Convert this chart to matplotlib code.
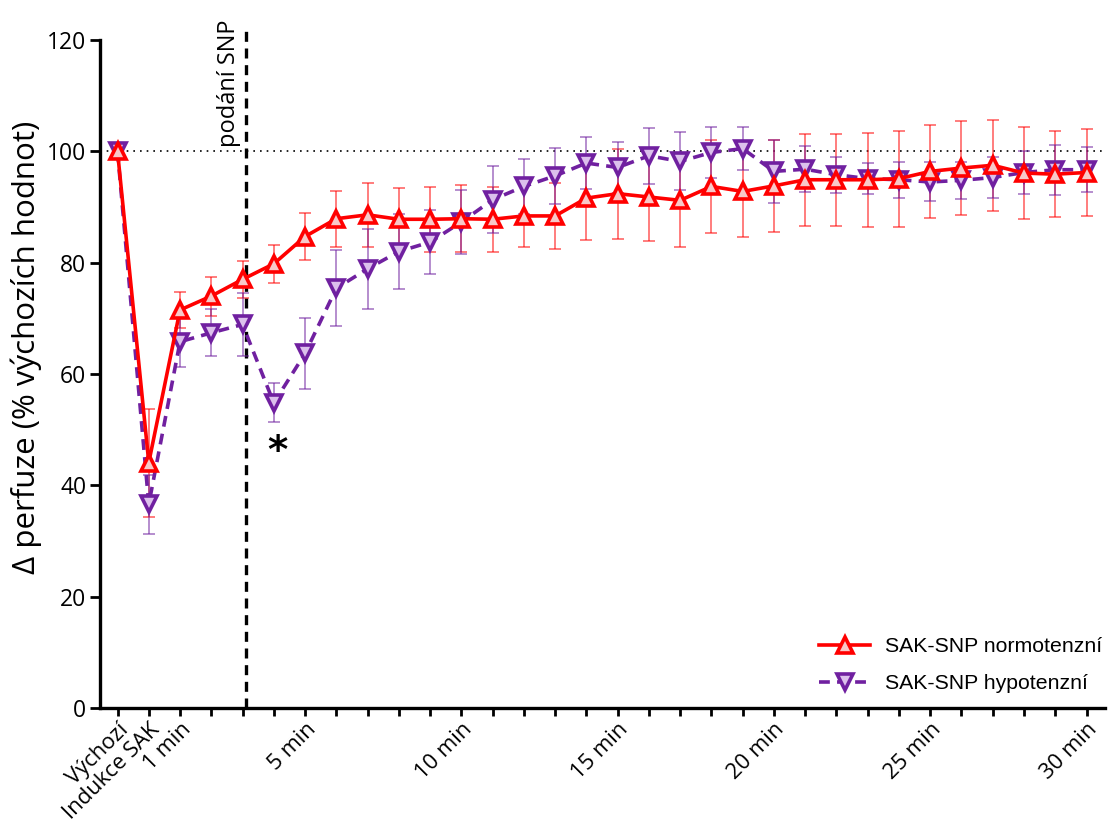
import matplotlib
matplotlib.use("Agg")
import matplotlib.pyplot as plt
import numpy as np

# časové body: Výchozí, Indukce SAK, 1 .. 30 min
x = np.arange(32)
tick_labels = {0: 'Výchozí', 1: 'Indukce SAK', 2: '1 min', 6: '5 min',
               11: '10 min', 16: '15 min', 21: '20 min', 26: '25 min', 31: '30 min'}

# SAK-SNP normotenzní (průměr, SEM)
norm_mean = [100, 44.1, 71.5, 74.0, 77.0, 79.8, 84.7, 87.9, 88.6, 87.8, 87.8, 87.9,
             87.8, 88.4, 88.4, 91.6, 92.4, 91.8, 91.2, 93.7, 92.8, 93.8,
             94.9, 94.9, 94.9, 95.1, 96.4, 97.0, 97.5, 96.1, 95.9, 96.2]
norm_sem = [0, 9.7, 3.3, 3.5, 3.3, 3.4, 4.2, 5.0, 5.7, 5.6, 5.8, 6.0,
            5.8, 5.5, 6.0, 7.6, 8.1, 7.9, 8.3, 8.4, 8.1, 8.3,
            8.3, 8.3, 8.4, 8.6, 8.3, 8.4, 8.2, 8.3, 7.7, 7.9]

# SAK-SNP hypotenzní (průměr, SEM)
hypo_mean = [100, 36.6, 65.8, 67.4, 68.9, 54.8, 63.7, 75.4, 78.9, 82.0, 83.7, 87.3,
             91.3, 93.7, 95.6, 97.9, 97.1, 99.2, 98.2, 99.8, 100.5, 96.4,
             96.8, 95.8, 95.1, 94.9, 94.5, 94.8, 95.3, 96.2, 96.7, 96.7]
hypo_sem = [0, 5.3, 4.6, 4.2, 5.6, 3.5, 6.4, 6.8, 7.2, 6.8, 5.7, 5.7,
            6.0, 4.9, 5.0, 4.6, 4.5, 5.0, 5.2, 4.5, 3.8, 5.6,
            4.1, 3.2, 2.8, 3.2, 3.5, 3.3, 3.7, 3.9, 4.5, 4.0]

snp_x = 4.1  # podání SNP

red = '#ff0000'
purple = '#7020a0'
font = 'Open Sans'

fig = plt.figure(figsize=(11.15, 8.22), dpi=100)
ax = fig.add_axes([0.0897, 0.1387, 0.9013, 0.8126])

# chybové úsečky (světlejší)
ax.errorbar(x, norm_mean, yerr=norm_sem, fmt='none', ecolor=red, alpha=0.55,
            elinewidth=1.3, capsize=4, capthick=1.3, zorder=2)
ax.errorbar(x, hypo_mean, yerr=hypo_sem, fmt='none', ecolor=purple, alpha=0.55,
            elinewidth=1.3, capsize=4, capthick=1.3, zorder=2)

ax.plot(x, norm_mean, color=red, lw=2.6, marker='^', ms=11, mew=2.6,
        mfc='#f8c8c8', mec=red, label='SAK-SNP normotenzní', zorder=4)
ax.plot(x, hypo_mean, color=purple, lw=2.6, ls=(0, (3, 2)), marker='v', ms=11, mew=2.6,
        mfc='#dcc0ec', mec=purple, label='SAK-SNP hypotenzní', zorder=3)

# referenční čáry
ax.axhline(100, color='black', lw=1.2, ls=(0, (1, 3)), zorder=1)
ax.plot([snp_x, snp_x], [0, 121.8], color='black', lw=2.4, ls=(0, (3, 2)),
        clip_on=False, zorder=1)
ax.text(snp_x - 0.15, 100.8, 'podání SNP', rotation=90, ha='right', va='bottom',
        fontsize=17, family=font, clip_on=False)
ax.text(5.1, 46, '*', ha='center', va='center', fontsize=28, fontweight='bold',
        family='DejaVu Sans')

ax.set_xlim(-0.56, 31.59)
ax.set_ylim(0, 120)
ax.set_yticks(np.arange(0, 121, 20))
ax.set_xticks(x)
ax.set_xticklabels([tick_labels.get(i, '') for i in x], rotation=45, ha='right',
                   rotation_mode='anchor', fontsize=15.8, family=font)
for lab in ax.get_yticklabels():
    lab.set_fontsize(16.5)
    lab.set_family(font)
ax.tick_params(axis='both', direction='out', width=2, length=7, pad=3)
ax.tick_params(axis='x', length=6, pad=2)

for s in ['top', 'right']:
    ax.spines[s].set_visible(False)
for s in ['left', 'bottom']:
    ax.spines[s].set_linewidth(2.4)

ax.set_ylabel('Δ perfuze (% výchozích hodnot)', fontsize=22.5, family=font)
ax.yaxis.set_label_coords(-0.058, 0.54)

ax.legend(loc='lower right', bbox_to_anchor=(1.012, 0.0), frameon=False,
          prop={'family': 'Liberation Sans', 'size': 15.3}, handlelength=2.4,
          handletextpad=0.7, labelspacing=0.85, borderaxespad=0.3)

fig.savefig('out.png', dpi=100)
